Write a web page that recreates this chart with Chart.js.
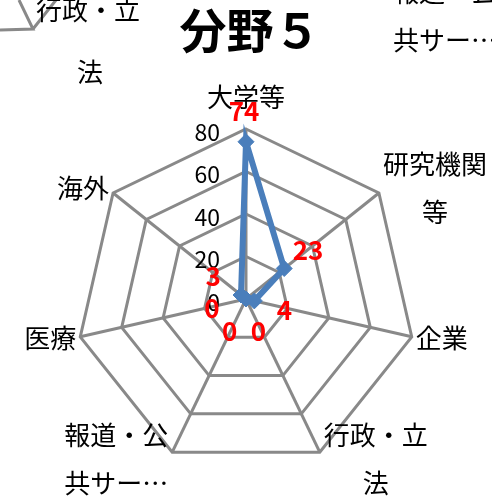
<!DOCTYPE html>
<html><head><meta charset="utf-8">
<script src="https://cdn.jsdelivr.net/npm/chart.js@4/dist/chart.umd.min.js"></script>
<style>html,body{margin:0;padding:0;background:#fff;overflow:hidden}</style>
</head><body>
<canvas id="c" width="492" height="496"></canvas>
<script>
// ---- data ----
const categories = [['大学等'], ['研究機関', '等'], ['企業'], ['行政・立', '法'], ['報道・公', '共サー…'], ['医療'], ['海外']];
const values = [74, 23, 4, 0, 0, 0, 3];
const tickValues = [0, 20, 40, 60, 80];
const chartTitle = '分野５';
const neighbourLeft = ['行政・立', '法'];
const neighbourRight = ['報道・公', '共サー…'];

// ---- styles ----
const FONT = '"Noto Sans CJK JP", "Noto Sans", sans-serif';
const GRID = '#898989';
const BLUE = '#4a7ebb';

const custom = {
  id: 'custom',
  beforeDatasetsDraw(chart) {
    const s = chart.scales.r, ctx = chart.ctx;
    ctx.save();
    ctx.fillStyle = '#000';
    ctx.textBaseline = 'middle';
    ctx.font = '23px ' + FONT;
    ctx.textAlign = 'right';
    tickValues.forEach(v => {
      const d = s.getDistanceFromCenterForValue(v);
      ctx.fillText(String(v), s.xCenter - 26, s.yCenter - d + 3);
    });
    ctx.font = '26px ' + FONT;
    ctx.textAlign = 'center';
    categories.forEach((lines, i) => {
      const p = s.getPointPosition(i, s.drawingArea);
      const c = Math.cos(p.angle), sn = Math.sin(p.angle);
      const w = Math.max(...lines.map(t => ctx.measureText(t).width));
      let cx, cy;
      if (Math.abs(c) < 0.05) { cx = p.x; cy = p.y - 32 - (lines.length - 1) * 24; }
      else if (c > 0) { cx = p.x + 4 + w / 2; cy = p.y + 8 * sn; }
      else { cx = p.x - 4 - w / 2; cy = p.y + 8 * sn; }
      lines.forEach((t, j) => ctx.fillText(t, cx, cy + (j - (lines.length - 1) / 2) * 48));
    });
    ctx.restore();
  },
  afterDatasetsDraw(chart) {
    const s = chart.scales.r, ctx = chart.ctx;
    const meta = chart.getDatasetMeta(0);
    ctx.save();
    ctx.font = 'bold 26px ' + FONT;
    ctx.fillStyle = '#ff0000';
    ctx.textAlign = 'center';
    ctx.textBaseline = 'middle';
    meta.data.forEach((pt, i) => {
      const a = s.getPointPosition(i, 1).angle;
      ctx.fillText(String(values[i]), pt.x + 33 * Math.cos(a) - 2, pt.y + 33 * Math.sin(a) + 2);
    });
    ctx.restore();
  },
  afterDraw(chart) {
    const ctx = chart.ctx;
    ctx.save();
    // fragment of the neighbouring chart (cropped)
    ctx.strokeStyle = GRID; ctx.lineWidth = 3;
    ctx.beginPath();
    ctx.moveTo(0, 30); ctx.lineTo(33, 29); ctx.lineTo(19, 0);
    ctx.moveTo(33, 29); ctx.lineTo(56, 0);
    ctx.stroke();
    ctx.fillStyle = '#000';
    ctx.font = '26px ' + FONT;
    ctx.textBaseline = 'middle';
    ctx.textAlign = 'left';
    ctx.fillText(neighbourLeft[0], 36, 10);
    ctx.textAlign = 'center';
    ctx.fillText(neighbourLeft[1], 90, 72);
    ctx.textAlign = 'left';
    ctx.fillText(neighbourRight[0], 393, -8);
    ctx.fillText(neighbourRight[1], 393, 40);
    ctx.restore();
  }
};

new Chart(document.getElementById('c'), {
  type: 'radar',
  data: {
    labels: categories,
    datasets: [{
      data: values,
      borderColor: BLUE,
      backgroundColor: BLUE,
      borderWidth: 6,
      fill: false,
      pointStyle: 'rectRot',
      pointRadius: 8,
      pointBackgroundColor: BLUE,
      pointBorderColor: BLUE,
      pointBorderWidth: 1,
      tension: 0
    }]
  },
  options: {
    responsive: false,
    animation: false,
    devicePixelRatio: 1,
    layout: { padding: { left: 8, right: 0, top: 0, bottom: 0 } },
    plugins: {
      legend: { display: false },
      tooltip: { enabled: false },
      title: {
        display: true, text: chartTitle, color: '#000',
        font: { size: 47, weight: 'bold', family: FONT },
        padding: { top: 2, bottom: 0 }
      }
    },
    scales: {
      r: {
        min: 0, max: 80,
        ticks: { display: false, stepSize: 20 },
        pointLabels: { display: false },
        grid: { color: GRID, lineWidth: 3, circular: false },
        angleLines: { color: GRID, lineWidth: 3 },
        afterFit(s) { s.xCenter = 246; s.yCenter = 299; s.drawingArea = 170; }
      }
    }
  },
  plugins: [custom]
});
</script>
</body></html>
